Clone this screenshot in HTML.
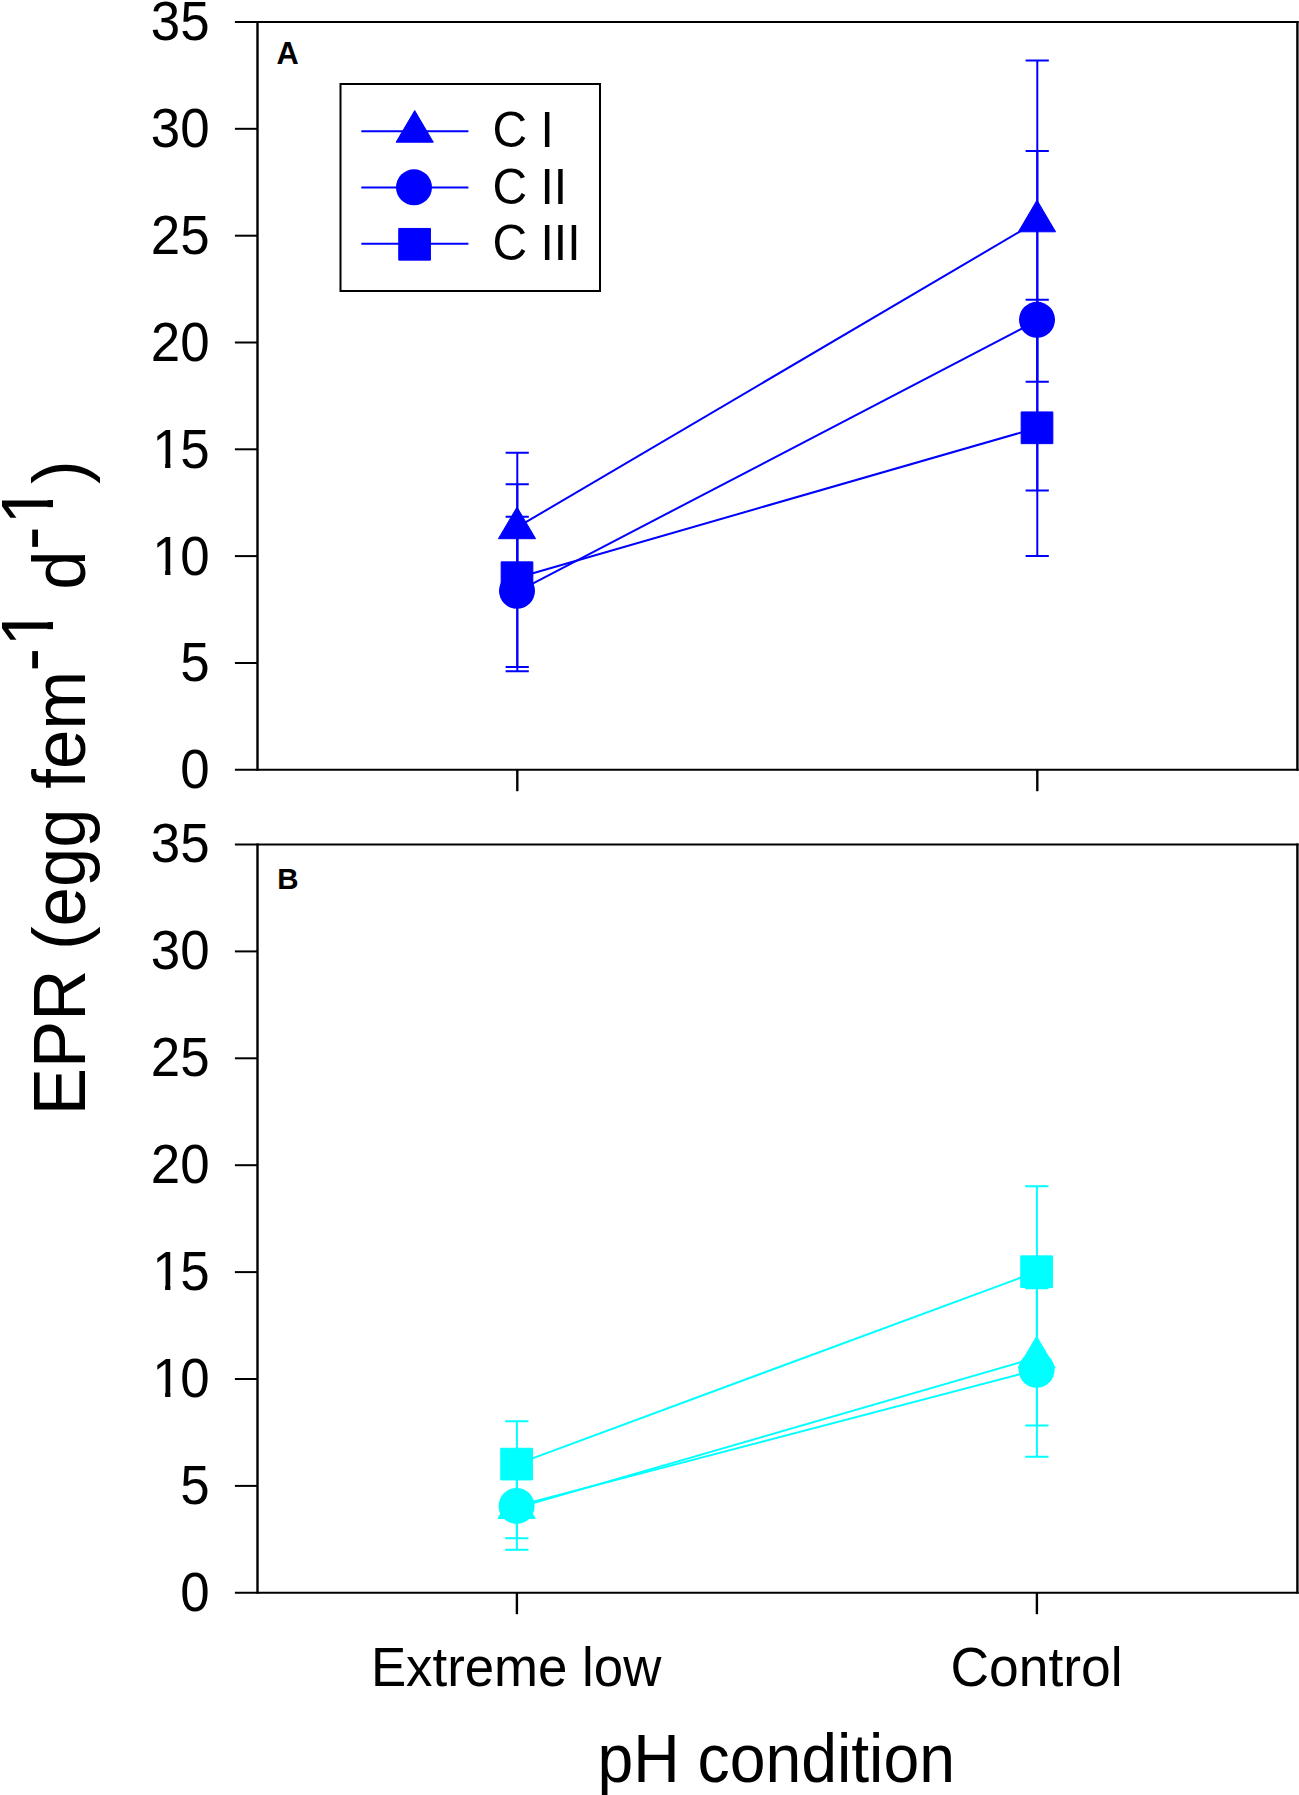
<!DOCTYPE html>
<html lang="en">
<head>
<meta charset="utf-8">
<title>EPR vs pH condition</title>
<style>
html,body{margin:0;padding:0;background:#fff;}
body{width:1299px;height:1795px;overflow:hidden;}
svg{display:block;}
</style>
</head>
<body>
<svg width="1299" height="1795" viewBox="0 0 1299 1795" font-family="'Liberation Sans', sans-serif">
<rect width="1299" height="1795" fill="#fff"/>
<!-- panel A -->
<g>
<line x1="517.3" y1="527.2" x2="1037.3" y2="221.3" stroke="#0000ff" stroke-width="2"/>
<line x1="517.3" y1="591.6" x2="1037.3" y2="320.6" stroke="#0000ff" stroke-width="2"/>
<line x1="517.3" y1="577.7" x2="1037.3" y2="427.8" stroke="#0000ff" stroke-width="2"/>
<path d="M517.3 452.8V603.0" stroke="#0000ff" stroke-width="2" fill="none"/>
<path d="M505.6 452.8H528.8M505.6 603.0H528.8" stroke="#0000ff" stroke-width="2" fill="none"/>
<path d="M1037.3 60.6V381.7" stroke="#0000ff" stroke-width="2" fill="none"/>
<path d="M1025.6 60.6H1048.8M1025.6 381.7H1048.8" stroke="#0000ff" stroke-width="2" fill="none"/>
<path d="M517.3 516.7V667.0" stroke="#0000ff" stroke-width="2" fill="none"/>
<path d="M505.6 516.7H528.8M505.6 667.0H528.8" stroke="#0000ff" stroke-width="2" fill="none"/>
<path d="M1037.3 151.1V490.6" stroke="#0000ff" stroke-width="2" fill="none"/>
<path d="M1025.6 151.1H1048.8M1025.6 490.6H1048.8" stroke="#0000ff" stroke-width="2" fill="none"/>
<path d="M517.3 484.3V671.2" stroke="#0000ff" stroke-width="2" fill="none"/>
<path d="M505.6 484.3H528.8M505.6 671.2H528.8" stroke="#0000ff" stroke-width="2" fill="none"/>
<path d="M1037.3 299.8V556.0" stroke="#0000ff" stroke-width="2" fill="none"/>
<path d="M1025.6 299.8H1048.8M1025.6 556.0H1048.8" stroke="#0000ff" stroke-width="2" fill="none"/>
<polygon points="517.0,507.1 535.6,538.7 498.4,538.7" fill="#0000ff" stroke="#0000ff" stroke-width="1" stroke-linejoin="round"/>
<polygon points="1037.0,200.2 1055.6,231.8 1018.4,231.8" fill="#0000ff" stroke="#0000ff" stroke-width="1" stroke-linejoin="round"/>
<circle cx="517.0" cy="590.8" r="18" fill="#0000ff"/>
<circle cx="1037.0" cy="319.8" r="18" fill="#0000ff"/>
<rect x="501.15" y="561.85" width="31.7" height="31.7" fill="#0000ff" stroke="#0000ff" stroke-width="1" stroke-linejoin="round"/>
<rect x="1021.15" y="411.95" width="31.7" height="31.7" fill="#0000ff" stroke="#0000ff" stroke-width="1" stroke-linejoin="round"/>
<path d="M234.9 22.0H1298.6M234.9 769.8H1298.6" stroke="#000" stroke-width="2.0" fill="none"/>
<path d="M257.5 21.0V770.8M1297.4 21.0V770.8" stroke="#000" stroke-width="2.4" fill="none"/>
<text transform="translate(209.70 788.20) scale(1 1.055)" font-size="52.9" text-anchor="end">0</text>
<line x1="234.9" y1="663.0" x2="257.5" y2="663.0" stroke="#000" stroke-width="2.0"/>
<text transform="translate(209.70 681.37) scale(1 1.055)" font-size="52.9" text-anchor="end">5</text>
<line x1="234.9" y1="556.1" x2="257.5" y2="556.1" stroke="#000" stroke-width="2.0"/>
<text transform="translate(150.86 574.54) scale(1 1.055)" font-size="52.9"><tspan dx="1.3">1</tspan><tspan dx="-1.3">0</tspan></text>
<rect x="154.80" y="568.96" width="10.32" height="6.58" fill="#fff"/><rect x="170.41" y="568.96" width="9.79" height="6.58" fill="#fff"/>
<line x1="234.9" y1="449.3" x2="257.5" y2="449.3" stroke="#000" stroke-width="2.0"/>
<text transform="translate(150.86 467.71) scale(1 1.055)" font-size="52.9"><tspan dx="1.3">1</tspan><tspan dx="-1.3">5</tspan></text>
<rect x="154.80" y="462.13" width="10.32" height="6.58" fill="#fff"/><rect x="170.41" y="462.13" width="9.79" height="6.58" fill="#fff"/>
<line x1="234.9" y1="342.5" x2="257.5" y2="342.5" stroke="#000" stroke-width="2.0"/>
<text transform="translate(209.70 360.89) scale(1 1.055)" font-size="52.9" text-anchor="end">20</text>
<line x1="234.9" y1="235.7" x2="257.5" y2="235.7" stroke="#000" stroke-width="2.0"/>
<text transform="translate(209.70 254.06) scale(1 1.055)" font-size="52.9" text-anchor="end">25</text>
<line x1="234.9" y1="128.8" x2="257.5" y2="128.8" stroke="#000" stroke-width="2.0"/>
<text transform="translate(209.70 147.23) scale(1 1.055)" font-size="52.9" text-anchor="end">30</text>
<text transform="translate(209.70 40.40) scale(1 1.055)" font-size="52.9" text-anchor="end">35</text>
<line x1="517.3" y1="769.8" x2="517.3" y2="791.2" stroke="#000" stroke-width="2.4"/>
<line x1="1037.3" y1="769.8" x2="1037.3" y2="791.2" stroke="#000" stroke-width="2.4"/>
<text transform="translate(276.40 63.90) scale(1 1.0)" font-size="30.8" font-weight="bold">A</text>
</g>
<!-- panel B -->
<g>
<line x1="516.9" y1="1507.9" x2="1036.9" y2="1357.5" stroke="#00ffff" stroke-width="2"/>
<line x1="516.9" y1="1505.9" x2="1036.9" y2="1369.8" stroke="#00ffff" stroke-width="2"/>
<line x1="516.9" y1="1464.1" x2="1036.9" y2="1271.7" stroke="#00ffff" stroke-width="2"/>
<path d="M516.9 1464.6V1549.8" stroke="#00ffff" stroke-width="2" fill="none"/>
<path d="M505.2 1464.6H528.4M505.2 1549.8H528.4" stroke="#00ffff" stroke-width="2" fill="none"/>
<path d="M1036.9 1288.3V1425.6" stroke="#00ffff" stroke-width="2" fill="none"/>
<path d="M1025.2 1288.3H1048.4M1025.2 1425.6H1048.4" stroke="#00ffff" stroke-width="2" fill="none"/>
<path d="M516.9 1473.0V1538.3" stroke="#00ffff" stroke-width="2" fill="none"/>
<path d="M505.2 1473.0H528.4M505.2 1538.3H528.4" stroke="#00ffff" stroke-width="2" fill="none"/>
<path d="M1036.9 1282.7V1456.8" stroke="#00ffff" stroke-width="2" fill="none"/>
<path d="M1025.2 1282.7H1048.4M1025.2 1456.8H1048.4" stroke="#00ffff" stroke-width="2" fill="none"/>
<path d="M516.9 1421.3V1507.0" stroke="#00ffff" stroke-width="2" fill="none"/>
<path d="M505.2 1421.3H528.4M505.2 1507.0H528.4" stroke="#00ffff" stroke-width="2" fill="none"/>
<path d="M1036.9 1186.2V1357.6" stroke="#00ffff" stroke-width="2" fill="none"/>
<path d="M1025.2 1186.2H1048.4M1025.2 1357.6H1048.4" stroke="#00ffff" stroke-width="2" fill="none"/>
<polygon points="516.6,1486.8 535.2,1518.4 498.0,1518.4" fill="#00ffff" stroke="#00ffff" stroke-width="1" stroke-linejoin="round"/>
<polygon points="1036.6,1336.4 1055.2,1368.0 1018.0,1368.0" fill="#00ffff" stroke="#00ffff" stroke-width="1" stroke-linejoin="round"/>
<circle cx="516.6" cy="1505.9" r="18" fill="#00ffff"/>
<circle cx="1036.6" cy="1369.8" r="18" fill="#00ffff"/>
<rect x="500.75" y="1448.25" width="31.7" height="31.7" fill="#00ffff" stroke="#00ffff" stroke-width="1" stroke-linejoin="round"/>
<rect x="1020.75" y="1255.85" width="31.7" height="31.7" fill="#00ffff" stroke="#00ffff" stroke-width="1" stroke-linejoin="round"/>
<path d="M234.9 844.5H1298.6M234.9 1592.8H1298.6" stroke="#000" stroke-width="2.0" fill="none"/>
<path d="M257.5 843.5V1593.8M1297.4 843.5V1593.8" stroke="#000" stroke-width="2.4" fill="none"/>
<text transform="translate(209.70 1610.50) scale(1 1.055)" font-size="52.9" text-anchor="end">0</text>
<line x1="234.9" y1="1485.9" x2="257.5" y2="1485.9" stroke="#000" stroke-width="2.0"/>
<text transform="translate(209.70 1503.60) scale(1 1.055)" font-size="52.9" text-anchor="end">5</text>
<line x1="234.9" y1="1379.0" x2="257.5" y2="1379.0" stroke="#000" stroke-width="2.0"/>
<text transform="translate(150.86 1396.70) scale(1 1.055)" font-size="52.9"><tspan dx="1.3">1</tspan><tspan dx="-1.3">0</tspan></text>
<rect x="154.80" y="1391.12" width="10.32" height="6.58" fill="#fff"/><rect x="170.41" y="1391.12" width="9.79" height="6.58" fill="#fff"/>
<line x1="234.9" y1="1272.1" x2="257.5" y2="1272.1" stroke="#000" stroke-width="2.0"/>
<text transform="translate(150.86 1289.80) scale(1 1.055)" font-size="52.9"><tspan dx="1.3">1</tspan><tspan dx="-1.3">5</tspan></text>
<rect x="154.80" y="1284.22" width="10.32" height="6.58" fill="#fff"/><rect x="170.41" y="1284.22" width="9.79" height="6.58" fill="#fff"/>
<line x1="234.9" y1="1165.2" x2="257.5" y2="1165.2" stroke="#000" stroke-width="2.0"/>
<text transform="translate(209.70 1182.90) scale(1 1.055)" font-size="52.9" text-anchor="end">20</text>
<line x1="234.9" y1="1058.3" x2="257.5" y2="1058.3" stroke="#000" stroke-width="2.0"/>
<text transform="translate(209.70 1076.00) scale(1 1.055)" font-size="52.9" text-anchor="end">25</text>
<line x1="234.9" y1="951.4" x2="257.5" y2="951.4" stroke="#000" stroke-width="2.0"/>
<text transform="translate(209.70 969.10) scale(1 1.055)" font-size="52.9" text-anchor="end">30</text>
<text transform="translate(209.70 862.20) scale(1 1.055)" font-size="52.9" text-anchor="end">35</text>
<line x1="516.9" y1="1592.8" x2="516.9" y2="1614.2" stroke="#000" stroke-width="2.4"/>
<line x1="1036.9" y1="1592.8" x2="1036.9" y2="1614.2" stroke="#000" stroke-width="2.4"/>
<text transform="translate(277.20 888.50) scale(1 1.0)" font-size="29.5" font-weight="bold">B</text>
</g>
<!-- legend -->
<g>
<rect x="340.5" y="84" width="259.5" height="207" fill="#fff" stroke="#000" stroke-width="2"/>
<line x1="361.3" y1="131.3" x2="468.4" y2="131.3" stroke="#0000ff" stroke-width="2"/>
<polygon points="414.7,110.6 433.3,142.2 396.1,142.2" fill="#0000ff" stroke="#0000ff" stroke-width="1" stroke-linejoin="round"/>
<text transform="translate(492.50 147.30) scale(1 1.05)" font-size="48">C I</text>
<line x1="361.3" y1="187.4" x2="468.4" y2="187.4" stroke="#0000ff" stroke-width="2"/>
<circle cx="414.0" cy="187.3" r="18" fill="#0000ff"/>
<text transform="translate(492.50 203.50) scale(1 1.05)" font-size="48">C II</text>
<line x1="361.3" y1="243.8" x2="468.4" y2="243.8" stroke="#0000ff" stroke-width="2"/>
<rect x="398.75" y="228.45" width="31.7" height="31.7" fill="#0000ff" stroke="#0000ff" stroke-width="1" stroke-linejoin="round"/>
<text transform="translate(492.50 260.00) scale(1 1.05)" font-size="48">C III</text>
</g>
<!-- axis titles and category labels -->
<text transform="translate(516.10 1686.30) scale(1 1.05)" font-size="52.8" text-anchor="middle">Extreme low</text>
<text transform="translate(1036.50 1686.30) scale(1 1.05)" font-size="53.4" text-anchor="middle">Control</text>
<text transform="translate(776.20 1782.30) scale(1 1.06)" font-size="64.3" text-anchor="middle">pH condition</text>
<g transform="translate(85.2 1115.3) rotate(-90) scale(1 1.055)" font-size="70.8">
<text><tspan x="0" y="0">EPR (egg fem</tspan><tspan x="443.9" y="-28.44">-</tspan><tspan x="468.8" y="-30.24">1</tspan><tspan x="505.8" y="0"> d</tspan><tspan x="565.4" y="-28.44">-</tspan><tspan x="590.8" y="-30.24">1</tspan><tspan x="631.3" y="0">)</tspan></text>
<rect x="472.34" y="-37.32" width="13.81" height="8.08" fill="#fff"/><rect x="493.23" y="-37.32" width="13.10" height="8.08" fill="#fff"/>
<rect x="594.34" y="-37.32" width="13.81" height="8.08" fill="#fff"/><rect x="615.23" y="-37.32" width="13.10" height="8.08" fill="#fff"/>
</g>
</svg>
</body>
</html>
